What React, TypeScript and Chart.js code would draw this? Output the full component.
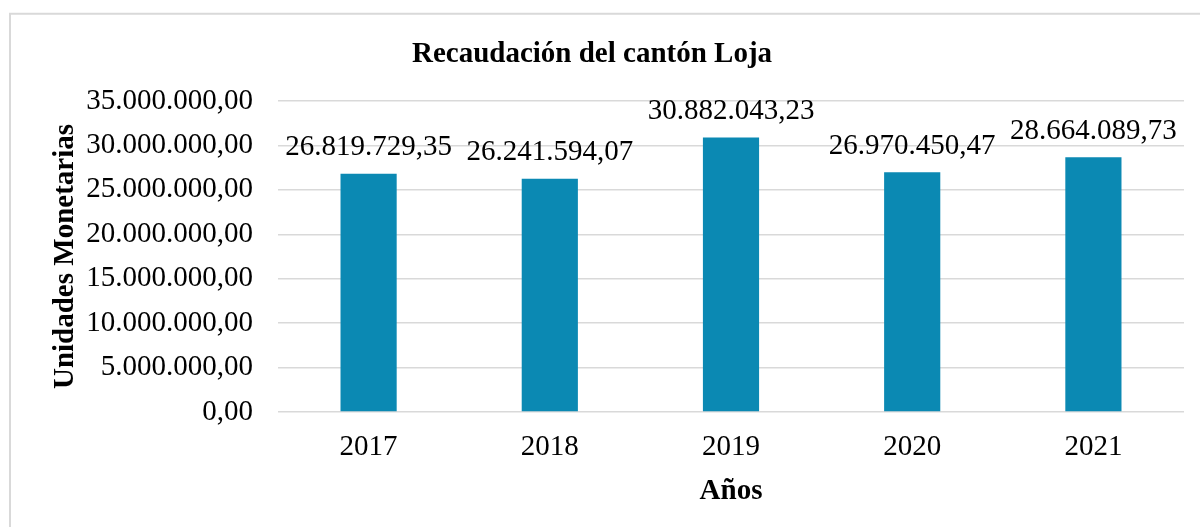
import React, { useEffect, useRef } from "react";
import { Chart, registerables } from "chart.js";

Chart.register(...registerables);

const categories = ["2017", "2018", "2019", "2020", "2021"];
const values = [26819729.35, 26241594.07, 30882043.23, 26970450.47, 28664089.73];
const yMin = 0;
const yMax = 35000000;
const yStep = 5000000;
const titleText = "Recaudación del cantón Loja";
const yTitleText = "Unidades Monetarias";
const xTitleText = "Años";

const FONT = "'Liberation Serif', 'Times New Roman', serif";
const FONT_SIZE = 29;
const BAR_COLOR = "#0B89B3";
const GRID_COLOR = "#d9d9d9";

function fmt(v: number): string {
  const neg = v < 0;
  const fixed = Math.abs(v).toFixed(2);
  const [intPart, dec] = fixed.split(".");
  const grouped = intPart.replace(/\B(?=(\d{3})+(?!\d))/g, ".");
  return (neg ? "-" : "") + grouped + "," + dec;
}

const borderPlugin = {
  id: "outerBorder",
  beforeDraw(chart: any) {
    const ctx = chart.ctx;
    ctx.save();
    ctx.fillStyle = "#ffffff";
    ctx.fillRect(0, 0, chart.width, chart.height);
    ctx.strokeStyle = GRID_COLOR;
    ctx.lineWidth = 2;
    ctx.beginPath();
    ctx.moveTo(10, chart.height + 5);
    ctx.lineTo(10, 13.7);
    ctx.lineTo(chart.width + 5, 13.7);
    ctx.stroke();
    ctx.restore();
  },
};

const dataLabelPlugin = {
  id: "valueLabels",
  afterDatasetsDraw(chart: any) {
    const ctx = chart.ctx;
    const meta = chart.getDatasetMeta(0);
    ctx.save();
    ctx.font = `${FONT_SIZE}px ${FONT}`;
    ctx.fillStyle = "#000000";
    ctx.textAlign = "center";
    ctx.textBaseline = "alphabetic";
    meta.data.forEach((bar: any, i: number) => {
      ctx.fillText(fmt(values[i]), bar.x, bar.y - 18.5);
    });
    ctx.restore();
  },
};

export default function App() {
  const canvasRef = useRef<HTMLCanvasElement | null>(null);

  useEffect(() => {
    if (!canvasRef.current) return;
    const chart = new Chart(canvasRef.current, {
      type: "bar",
      data: {
        labels: categories,
        datasets: [
          {
            data: values,
            backgroundColor: BAR_COLOR,
            borderWidth: 0,
            barPercentage: 1,
            categoryPercentage: 0.31,
          },
        ],
      },
      options: {
        animation: false,
        responsive: false,
        devicePixelRatio: 1,
        layout: { padding: { left: 0, right: 16, top: 0, bottom: 0 } },
        plugins: {
          legend: { display: false },
          tooltip: { enabled: false },
          title: {
            display: true,
            text: titleText,
            color: "#000000",
            font: { family: FONT, size: FONT_SIZE, weight: "bold" },
            padding: { top: 37.6, bottom: 28.6 },
          },
        },
        scales: {
          x: {
            grid: { display: false, drawTicks: false },
            border: { display: false },
            ticks: {
              color: "#000000",
              font: { family: FONT, size: FONT_SIZE },
              padding: 17.5,
              maxRotation: 0,
            },
            title: {
              display: true,
              text: xTitleText,
              color: "#000000",
              font: { family: FONT, size: FONT_SIZE, weight: "bold" },
              padding: { top: 0, bottom: 18 },
            },
            afterFit(scale: any) {
              scale.height = 115;
            },
          },
          y: {
            min: yMin,
            max: yMax,
            grid: { color: GRID_COLOR, lineWidth: 1.5, drawTicks: false },
            border: { display: false },
            ticks: {
              stepSize: yStep,
              color: "#000000",
              font: { family: FONT, size: FONT_SIZE },
              padding: 25,
              callback: (v: any) => fmt(Number(v)),
            },
            title: {
              display: true,
              text: yTitleText,
              color: "#000000",
              font: { family: FONT, size: FONT_SIZE, weight: "bold" },
              padding: { top: 47.8, bottom: 0 },
            },
            afterFit(scale: any) {
              scale.width = 278;
            },
          },
        },
      },
      plugins: [borderPlugin, dataLabelPlugin],
    } as any);
    return () => chart.destroy();
  }, []);

  return (
    <div style={{ position: "fixed", left: 0, top: 0, width: 1200, height: 527, background: "#fff" }}>
      <canvas ref={canvasRef} width={1200} height={527} style={{ display: "block" }} />
    </div>
  );
}
